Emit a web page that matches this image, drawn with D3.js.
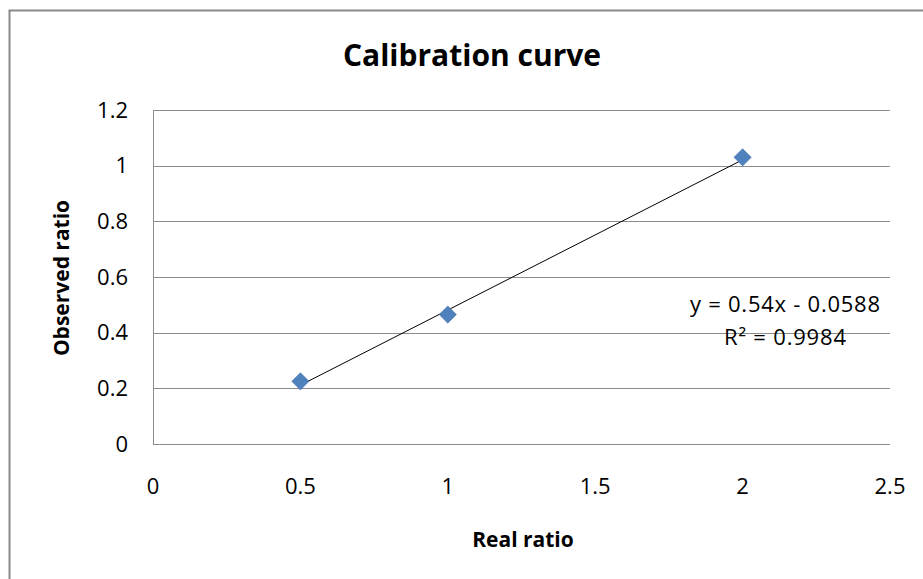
<!DOCTYPE html>
<html>
<head>
<meta charset="utf-8">
<script src="https://d3js.org/d3.v7.min.js"></script>
<style>
  body { margin: 0; background: #fff; }
  text { font-family: "Open Sans", "DejaVu Sans", sans-serif; fill: #000; }
</style>
</head>
<body>
<svg id="chart"></svg>
<script>
// data
var realRatio = [0.5, 1, 2];
var observedRatio = [0.225, 0.465, 1.03];
var xTicks = [0, 0.5, 1, 1.5, 2, 2.5];
var yTicks = [0, 0.2, 0.4, 0.6, 0.8, 1, 1.2];
var slope = 0.54, intercept = -0.0588;
var eqText = "y = 0.54x - 0.0588";
var r2Text = "R² = 0.9984";

var screen = {width: 923, height: 579};
var margins = {left: 153, right: 33, top: 110, bottom: 135};

var svg = d3.select("#chart")
  .attr("width", screen.width)
  .attr("height", screen.height);

// outer chart border (runs off the right/bottom of the picture)
svg.append("rect")
  .attr("x", 9.5).attr("y", 10.5)
  .attr("width", 930).attr("height", 600)
  .attr("fill", "white")
  .attr("stroke", "#898989")
  .attr("stroke-width", 2);

var x = d3.scaleLinear().domain([0, 2.5]).range([margins.left, screen.width - margins.right]);
var y = d3.scaleLinear().domain([0, 1.2]).range([screen.height - margins.bottom, margins.top]);

// gridlines
svg.append("g")
  .selectAll("line")
  .data(yTicks)
  .enter()
  .append("line")
  .attr("x1", x(0)).attr("x2", x(2.5))
  .attr("y1", function(d){ return Math.round(y(d)) + 0.5; })
  .attr("y2", function(d){ return Math.round(y(d)) + 0.5; })
  .attr("stroke", "#8c8c8c")
  .attr("stroke-width", 1);

// left axis line
svg.append("line")
  .attr("x1", x(0) + 0.5).attr("x2", x(0) + 0.5)
  .attr("y1", y(1.2)).attr("y2", y(0))
  .attr("stroke", "#8c8c8c");

// y tick labels
svg.append("g")
  .selectAll("text")
  .data(yTicks)
  .enter()
  .append("text")
  .attr("x", 128)
  .attr("y", function(d){ return y(d); })
  .attr("dy", "0.35em")
  .attr("text-anchor", "end")
  .style("font-size", "22px")
  .text(function(d){ return +d.toFixed(1); });

// x tick labels
svg.append("g")
  .selectAll("text")
  .data(xTicks)
  .enter()
  .append("text")
  .attr("x", function(d){ return x(d); })
  .attr("y", 486)
  .attr("dy", "0.35em")
  .attr("text-anchor", "middle")
  .style("font-size", "22px")
  .text(function(d){ return d; });

// trendline
svg.append("line")
  .attr("x1", x(realRatio[0])).attr("y1", y(slope * realRatio[0] + intercept))
  .attr("x2", x(realRatio[2])).attr("y2", y(slope * realRatio[2] + intercept))
  .attr("stroke", "#000")
  .attr("stroke-width", 1);

// markers
svg.append("g")
  .selectAll("path")
  .data(realRatio)
  .enter()
  .append("path")
  .attr("d", d3.symbol().type(d3.symbolSquare).size(150))
  .attr("transform", function(d, i){ return "translate(" + x(d) + "," + y(observedRatio[i]) + ") rotate(45)"; })
  .attr("fill", "#4f81bd")
  .attr("stroke", "#3f6fa8")
  .attr("stroke-width", 0.5);

// equation label
svg.append("text")
  .attr("x", 785).attr("y", 304)
  .attr("dy", "0.35em")
  .attr("text-anchor", "middle")
  .attr("textLength", 190)
  .attr("lengthAdjust", "spacing")
  .style("font-size", "22px")
  .text(eqText);
svg.append("text")
  .attr("x", 785).attr("y", 337)
  .attr("dy", "0.35em")
  .attr("text-anchor", "middle")
  .attr("textLength", 122)
  .attr("lengthAdjust", "spacing")
  .style("font-size", "22px")
  .text(r2Text);

// title
svg.append("text")
  .attr("x", 472).attr("y", 55)
  .attr("dy", "0.35em")
  .attr("text-anchor", "middle")
  .style("font-size", "30px")
  .style("font-weight", "bold")
  .text("Calibration curve");

// axis titles
svg.append("text")
  .attr("x", 523).attr("y", 540)
  .attr("dy", "0.35em")
  .attr("text-anchor", "middle")
  .style("font-size", "21px")
  .style("font-weight", "bold")
  .text("Real ratio");

svg.append("text")
  .attr("transform", "translate(62,278) rotate(-90)")
  .attr("dy", "0.35em")
  .attr("text-anchor", "middle")
  .style("font-size", "21px")
  .style("font-weight", "bold")
  .text("Observed ratio");
</script>
</body>
</html>
